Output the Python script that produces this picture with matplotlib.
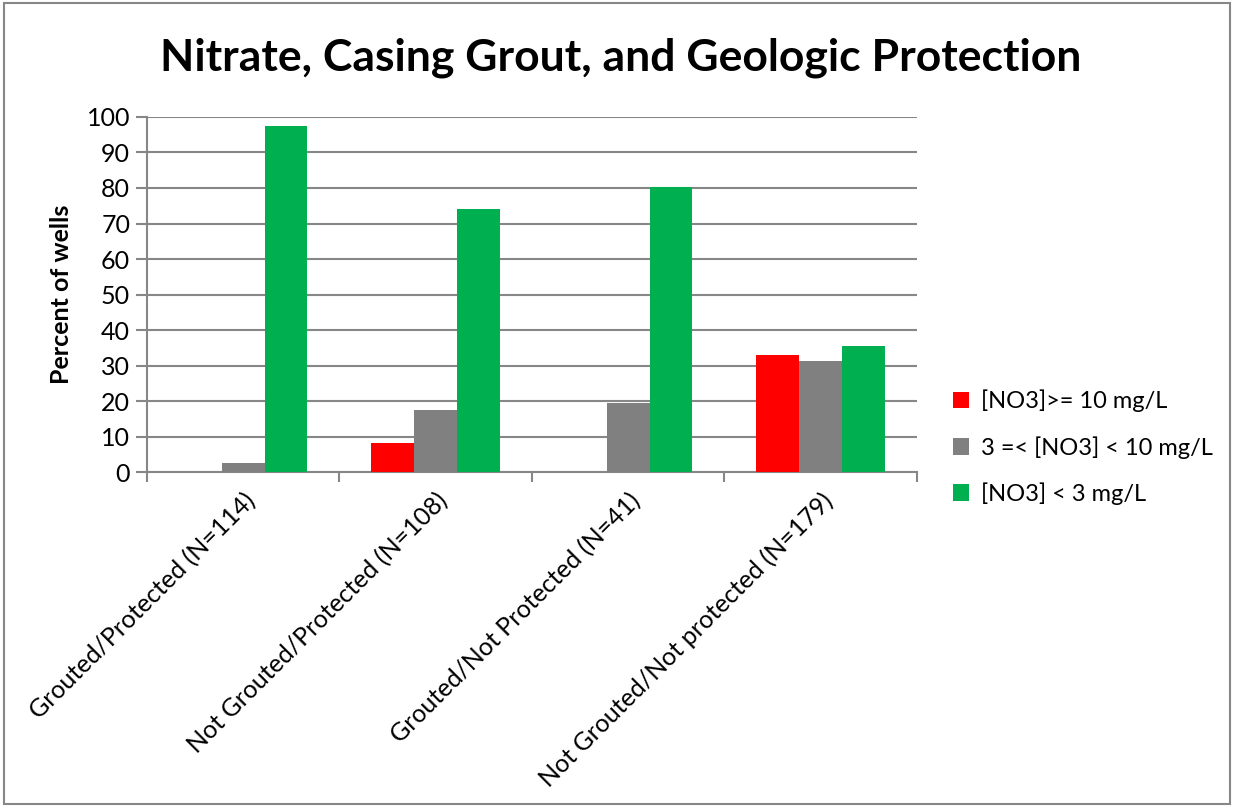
import matplotlib.pyplot as plt
import matplotlib.patches as patches
import numpy as np

# categories and series
categories = ['Grouted/Protected (N=114)', 'Not Grouted/Protected (N=108)',
              'Grouted/Not Protected (N=41)', 'Not Grouted/Not protected (N=179)']
high = [0, 8.3, 0, 32.9]        # [NO3] >= 10 mg/L
mid = [2.5, 17.5, 19.5, 31.2]   # 3 =< [NO3] < 10 mg/L
low = [97.3, 74.0, 80.4, 35.6]  # [NO3] < 3 mg/L
series_names = ['[NO3]>= 10 mg/L', '3 =< [NO3] < 10 mg/L', '[NO3] < 3 mg/L']
colors = ['#FF0000', '#808080', '#00B050']

plt.rcParams['font.family'] = ['Lato', 'DejaVu Sans']

fig = plt.figure(figsize=(12.34, 8.06), dpi=100)
ax = fig.add_axes([0.119, 0.414, 0.624, 0.441])

x = np.arange(len(categories))
w = 0.223
for i, (vals, name, c) in enumerate(zip([high, mid, low], series_names, colors)):
    ax.bar(x + (i - 1) * w, vals, width=w, color=c, label=name, zorder=3)

ax.set_xlim(-0.5, len(categories) - 0.5)
ax.set_ylim(0, 100)
ax.set_yticks(range(0, 101, 10))
ax.grid(axis='y', color='#878787', linewidth=1.5, zorder=0)

ax.set_xticks(x)
ax.set_xticklabels(categories, rotation=45, ha='right', rotation_mode='anchor', fontsize=18)
ax.set_xticks(np.arange(-0.5, len(categories), 1), minor=True)
ax.tick_params(axis='x', which='major', length=0, pad=12)
ax.tick_params(axis='x', which='minor', length=7, color='#878787', width=1.5)
ax.tick_params(axis='y', length=8, color='#878787', width=1.5, labelsize=18, pad=4)

for s in ['top', 'right']:
    ax.spines[s].set_visible(False)
for s in ['left', 'bottom']:
    ax.spines[s].set_color('#878787')
    ax.spines[s].set_linewidth(1.5)

ax.set_ylabel('Percent of wells', fontsize=18, fontweight='bold', labelpad=10)
fig.suptitle('Nitrate, Casing Grout, and Geologic Protection', fontsize=32,
             fontweight='bold', x=0.503, y=0.953)

ax.legend(loc='center left', bbox_to_anchor=(0.772, 0.445), bbox_transform=fig.transFigure,
          frameon=False, fontsize=17, handlelength=0.7, handleheight=0.7,
          labelspacing=1.0, handletextpad=0.5, borderpad=0, borderaxespad=0)

fig.patches.append(patches.Rectangle((0.003, 0.003), 0.994, 0.993, transform=fig.transFigure,
                                     fill=False, edgecolor='#878787', linewidth=1.5))

fig.savefig('out.png', dpi=100)
